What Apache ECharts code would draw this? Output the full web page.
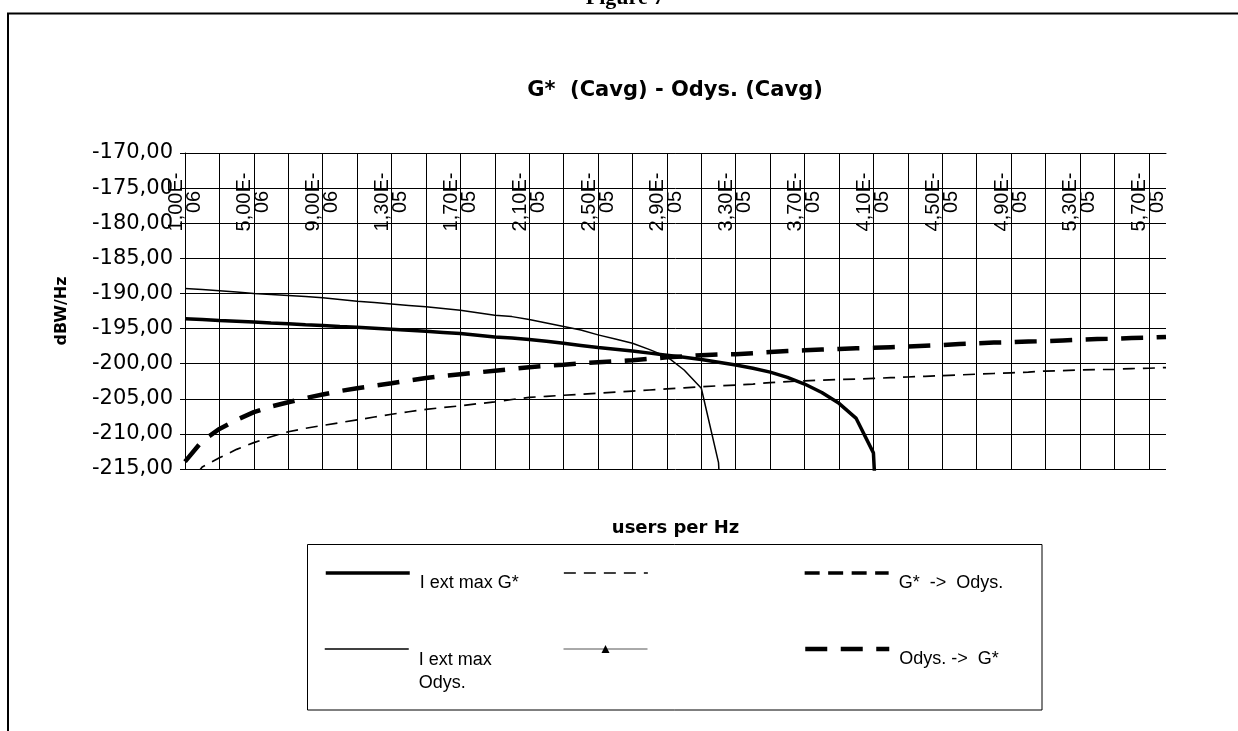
<!DOCTYPE html>
<html>
<head>
<meta charset="utf-8">
<title>G* (Cavg) - Odys. (Cavg)</title>
<script src="https://cdn.jsdelivr.net/npm/echarts@6.0.0/dist/echarts.min.js"></script>
<style>
  html, body { margin: 0; padding: 0; background: #fff; }
  #chart { width: 1238px; height: 731px; }
</style>
</head>
<body>
<div id="chart"></div>
<script>
// users per Hz (category axis)
const categories = [
  '1,00E-06', '2,00E-06', '3,00E-06', '4,00E-06', '5,00E-06', '6,00E-06', '7,00E-06', '8,00E-06', '9,00E-06',
  '1,00E-05', '1,10E-05', '1,20E-05', '1,30E-05', '1,40E-05', '1,50E-05', '1,60E-05', '1,70E-05', '1,80E-05', '1,90E-05',
  '2,00E-05', '2,10E-05', '2,20E-05', '2,30E-05', '2,40E-05', '2,50E-05', '2,60E-05', '2,70E-05', '2,80E-05', '2,90E-05',
  '3,00E-05', '3,10E-05', '3,20E-05', '3,30E-05', '3,40E-05', '3,50E-05', '3,60E-05', '3,70E-05', '3,80E-05', '3,90E-05',
  '4,00E-05', '4,10E-05', '4,20E-05', '4,30E-05', '4,40E-05', '4,50E-05', '4,60E-05', '4,70E-05', '4,80E-05', '4,90E-05',
  '5,00E-05', '5,10E-05', '5,20E-05', '5,30E-05', '5,40E-05', '5,50E-05', '5,60E-05', '5,70E-05', '5,80E-05'
];

// I ext max G* (thick solid)
const iExtMaxG = [
  -193.6, -193.7, -193.85, -193.95, -194.05, -194.2, -194.3, -194.45, -194.55, -194.7,
  -194.8, -194.95, -195.1, -195.25, -195.4, -195.55, -195.7, -195.95, -196.2, -196.35,
  -196.55, -196.8, -197.1, -197.4, -197.7, -197.95, -198.2, -198.5, -198.8, -199.1,
  -199.4, -199.8, -200.2, -200.65, -201.2, -201.95, -202.9, -204.1, -205.65, -207.8,
  -212.7, -260,
  null, null, null, null, null, null, null, null, null, null, null, null, null, null, null, null
];

// I ext max Odys. (thin solid)
const iExtMaxOdys = [
  -189.3, -189.45, -189.6, -189.8, -190.0, -190.15, -190.3, -190.45, -190.6, -190.85,
  -191.1, -191.3, -191.5, -191.7, -191.9, -192.15, -192.4, -192.75, -193.1, -193.3,
  -193.7, -194.2, -194.7, -195.2, -195.9, -196.5, -197.1, -198.0, -199.0, -200.9,
  -203.5, -214.1, -260,
  null, null, null, null, null, null, null, null, null, null, null, null, null,
  null, null, null, null, null, null, null, null, null, null, null, null
];

// unnamed series (thin dashed)
const unnamedDash = [
  -218.0, -214.7, -213.4, -212.2, -211.25, -210.4, -209.7, -209.2, -208.8, -208.4,
  -208.0, -207.6, -207.2, -206.85, -206.5, -206.25, -206.0, -205.7, -205.45, -205.1,
  -204.8, -204.65, -204.5, -204.35, -204.2, -204.05, -203.9, -203.75, -203.6, -203.45,
  -203.3, -203.15, -203.05, -202.9, -202.7, -202.55, -202.45, -202.35, -202.25, -202.2,
  -202.1, -202.0, -201.9, -201.8, -201.7, -201.6, -201.5, -201.4, -201.3, -201.2,
  -201.05, -201.0, -200.9, -200.85, -200.8, -200.7, -200.65, -200.55
];

// Odys. -> G* (thick long dash)
const odysToG = [
  -213.95, -211.0, -209.3, -208.0, -206.9, -206.1, -205.5, -204.9, -204.4, -203.9,
  -203.5, -203.15, -202.8, -202.4, -202.05, -201.75, -201.5, -201.25, -201.0, -200.75,
  -200.5, -200.3, -200.15, -199.95, -199.8, -199.65, -199.5, -199.3, -199.1, -198.95,
  -198.8, -198.7, -198.65, -198.5, -198.35, -198.2, -198.1, -198.0, -197.9, -197.8,
  -197.75, -197.65, -197.55, -197.45, -197.35, -197.2, -197.1, -197.0, -196.95, -196.85,
  -196.8, -196.7, -196.6, -196.5, -196.45, -196.35, -196.3, -196.2
];

// series only present in the legend, no points shown in the plot
const gToOdys = [];
const triangleSeries = [];

const font = 'DejaVu Sans';

// one legend per cell so the 3x2 layout matches the original box
function legendBox (name, left, top, label, lineHeight) {
  return {
    data: [{ name: name, itemStyle: { opacity: name === '  ' ? 1 : 0 } }],
    left: left,
    top: top,
    padding: 0,
    itemWidth: 84,
    itemHeight: 10,
    selectedMode: false,
    lineStyle: { width: 'inherit' },
    // a leading empty line pushes the text below the sample line
    formatter: function (n) { return '\n' + (label || n); },
    textStyle: {
      fontFamily: 'Liberation Sans',
      fontSize: 18,
      color: '#000',
      lineHeight: lineHeight || 20,
      padding: [0, 0, 0, 5]
    }
  };
}

const chart = echarts.init(document.getElementById('chart'));

const option = {
  backgroundColor: '#fff',
  animation: false,
  title: [
    {
      text: 'Figure 7',
      left: 625,
      top: -13,
      padding: 0,
      textAlign: 'center',
      textStyle: { fontFamily: 'Liberation Serif', fontWeight: 'bold', fontSize: 22, color: '#000' }
    },
    {
      text: 'G*  (Cavg) - Odys. (Cavg)',
      left: 675,
      top: 80,
      padding: 0,
      textAlign: 'center',
      textStyle: { fontFamily: font, fontWeight: 'bold', fontSize: 21, color: '#000' }
    }
  ],
  graphic: [
    {
      type: 'rect',
      shape: { x: 8, y: 13.5, width: 1300, height: 800 },
      style: { fill: 'none', stroke: '#000', lineWidth: 2 },
      silent: true
    },
    {
      type: 'rect',
      shape: { x: 307.5, y: 544.5, width: 734.5, height: 165.5 },
      style: { fill: 'none', stroke: '#000', lineWidth: 1 },
      silent: true
    }
  ],
  legend: [
    legendBox('I ext max G*', 324, 553),
    legendBox(' ', 563, 553),
    legendBox('G*  ->  Odys.', 803, 553),
    legendBox('I ext max Odys.', 324, 603, '\nI ext max\nOdys.', 23),
    legendBox('  ', 563, 629),
    legendBox('Odys. ->  G*', 803, 629)
  ],
  grid: { left: 185, top: 153, width: 981, height: 316, containLabel: false },
  xAxis: [
    {
      type: 'category',
      position: 'top',
      data: categories,
      boundaryGap: false,
      axisLine: { show: true, onZero: false, lineStyle: { color: '#000', width: 1 } },
      axisTick: { show: true, inside: true, length: 7, interval: 1, lineStyle: { color: '#000' } },
      splitLine: { show: true, interval: 1, lineStyle: { color: '#000', width: 1 } },
      axisLabel: {
        inside: true,
        rotate: -90,
        interval: 3,
        margin: 49,
        align: 'center',
        verticalAlign: 'middle',
        fontFamily: 'Liberation Sans',
        fontSize: 20,
        lineHeight: 18,
        color: '#000',
        formatter: function (v) { return v.replace('E-', 'E-\n'); }
      }
    },
    {
      type: 'category',
      position: 'bottom',
      data: categories,
      boundaryGap: false,
      axisLine: { show: false },
      axisTick: { show: false },
      axisLabel: { show: false },
      splitLine: { show: false },
      name: 'users per Hz',
      nameLocation: 'middle',
      nameGap: 50,
      nameTextStyle: { fontFamily: font, fontWeight: 'bold', fontSize: 18, color: '#000' }
    }
  ],
  yAxis: {
    type: 'value',
    min: -215,
    max: -170,
    interval: 5,
    name: 'dBW/Hz',
    nameLocation: 'middle',
    nameRotate: 90,
    nameGap: 115,
    nameTextStyle: { fontFamily: font, fontWeight: 'bold', fontSize: 16, color: '#000' },
    axisLine: { show: true, onZero: false, lineStyle: { color: '#000', width: 1 } },
    axisTick: { show: true, length: 5, lineStyle: { color: '#000' } },
    splitLine: { show: true, lineStyle: { color: '#000', width: 1 } },
    axisLabel: {
      margin: 12,
      fontFamily: font,
      fontSize: 21,
      color: '#000',
      formatter: function (v) { return v.toFixed(2).replace('.', ','); }
    }
  },
  series: [
    {
      name: 'I ext max G*',
      type: 'line',
      data: iExtMaxG,
      symbol: 'none',
      color: '#000',
      lineStyle: { color: '#000', width: 3.5 },
      z: 5
    },
    {
      name: ' ',
      type: 'line',
      data: unnamedDash,
      symbol: 'none',
      color: '#000',
      lineStyle: { color: '#000', width: 1.7, type: [12, 8] },
      z: 3
    },
    {
      name: 'G*  ->  Odys.',
      type: 'line',
      data: gToOdys,
      symbol: 'none',
      color: '#000',
      lineStyle: { color: '#000', width: 3.3, type: [15, 8.5] }
    },
    {
      name: 'I ext max Odys.',
      type: 'line',
      data: iExtMaxOdys,
      symbol: 'none',
      color: '#000',
      lineStyle: { color: '#000', width: 1.5 },
      z: 4
    },
    {
      name: '  ',
      type: 'line',
      data: triangleSeries,
      symbol: 'triangle',
      symbolSize: 8,
      color: '#000',
      itemStyle: { color: '#000' },
      lineStyle: { color: '#555', width: 1 }
    },
    {
      name: 'Odys. ->  G*',
      type: 'line',
      data: odysToG,
      symbol: 'none',
      color: '#000',
      lineStyle: { color: '#000', width: 4.5, type: [22, 13.5] },
      z: 3
    }
  ]
};

chart.setOption(option);
</script>
</body>
</html>
